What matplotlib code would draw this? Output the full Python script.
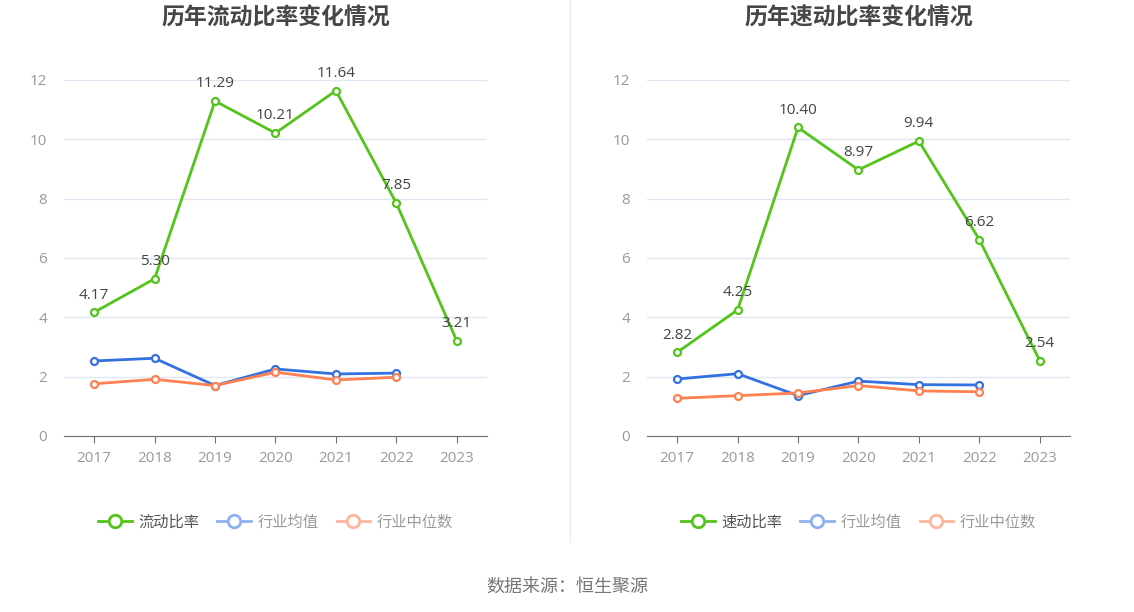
import matplotlib.pyplot as plt
from matplotlib.lines import Line2D

plt.rcParams['font.family'] = ['Open Sans', 'Noto Sans CJK SC', 'DejaVu Sans']

years = ['2017', '2018', '2019', '2020', '2021', '2022', '2023']

# 流动比率
current_ratio = [4.17, 5.30, 11.29, 10.21, 11.64, 7.85, 3.21]
current_ind_mean = [2.53, 2.62, 1.70, 2.26, 2.09, 2.12]
current_ind_median = [1.76, 1.91, 1.70, 2.15, 1.89, 1.98]

# 速动比率
quick_ratio = [2.82, 4.25, 10.40, 8.97, 9.94, 6.62, 2.54]
quick_ind_mean = [1.92, 2.10, 1.36, 1.85, 1.73, 1.72]
quick_ind_median = [1.27, 1.36, 1.45, 1.70, 1.52, 1.49]

GREEN = '#52c41a'
BLUE = '#3370e0'
ORANGE = '#ff8050'

fig = plt.figure(figsize=(11.34, 6.12), dpi=100)


def draw_panel(left, title, main, mean, median, main_name):
    ax = fig.add_axes([left, 0.2876, 0.373, 0.5817])
    x = list(range(len(years)))
    ax.plot(x[:len(mean)], mean, color=BLUE, lw=2, marker='o', ms=5,
            mfc='white', mec=BLUE, mew=1.6, zorder=3)
    ax.plot(x[:len(median)], median, color=ORANGE, lw=2, marker='o', ms=5,
            mfc='white', mec=ORANGE, mew=1.6, zorder=3)
    ax.plot(x, main, color=GREEN, lw=2, marker='o', ms=5,
            mfc='white', mec=GREEN, mew=1.6, zorder=4)
    for xi, v in zip(x, main):
        ax.annotate(f'{v:.2f}', (xi, v), xytext=(0, 7), textcoords='offset points',
                    ha='center', va='bottom', fontsize=11, color='#444444', zorder=5)
    ax.set_xlim(-0.5, len(years) - 0.5)
    ax.set_ylim(0, 12)
    ax.set_yticks(range(0, 13, 2))
    ax.set_xticks(x)
    ax.set_xticklabels(years)
    ax.grid(axis='y', color='#e0e6f1', lw=1)
    ax.set_axisbelow(True)
    for s in ['top', 'right', 'left']:
        ax.spines[s].set_visible(False)
    ax.spines['bottom'].set_color('#6e7079')
    ax.tick_params(axis='y', length=0, labelsize=11, labelcolor='#999999', pad=12)
    ax.tick_params(axis='x', length=5, color='#6e7079', labelsize=11,
                   labelcolor='#999999', pad=6)
    ax.text(0.5, 1.174, title, transform=ax.transAxes, ha='center', va='center',
            fontsize=16.5, fontweight='bold', color='#464646')
    handles = [
        Line2D([], [], color=GREEN, lw=2, marker='o', ms=9, mfc='white', mec=GREEN, mew=2),
        Line2D([], [], color='#8fb0f0', lw=2, marker='o', ms=9, mfc='white', mec='#8fb0f0', mew=2),
        Line2D([], [], color='#ffb49c', lw=2, marker='o', ms=9, mfc='white', mec='#ffb49c', mew=2),
    ]
    leg = ax.legend(handles, [main_name, '行业均值', '行业中位数'], loc='center',
                    bbox_to_anchor=(0.5, -0.245), ncol=3, frameon=False,
                    fontsize=11, handlelength=2.2, columnspacing=1.2, handletextpad=0.4)
    cols = ['#555555', '#999999', '#999999']
    for t, c in zip(leg.get_texts(), cols):
        t.set_color(c)
    return ax


draw_panel(0.0564, '历年流动比率变化情况', current_ratio, current_ind_mean,
           current_ind_median, '流动比率')
draw_panel(0.5705, '历年速动比率变化情况', quick_ratio, quick_ind_mean,
           quick_ind_median, '速动比率')

# divider line between panels
fig.add_artist(Line2D([0.5026, 0.5026], [0.115, 1.0], color='#eeeeee', lw=1))

fig.text(0.5, 0.042, '数据来源：恒生聚源', ha='center', va='center',
         fontsize=13, color='#777777')

fig.savefig('out.png', dpi=100)
